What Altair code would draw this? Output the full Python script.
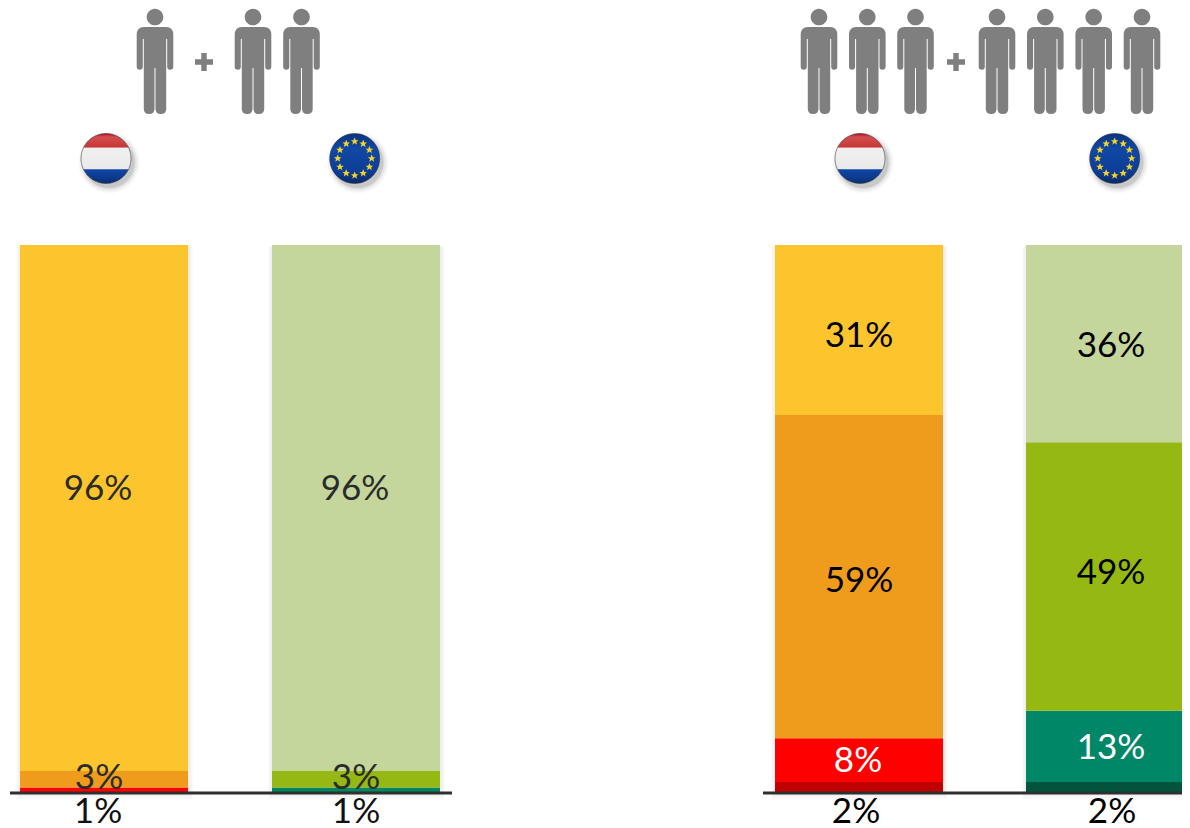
import math
import altair as alt
import pandas as pd

# ---------- data ----------
columns = ["NL, 1+2", "EU, 1+2", "NL, 3+4", "EU, 3+4"]
# stacked from the baseline upward
segment_values = [
    [1, 3, 96],
    [1, 3, 96],
    [2, 8, 59, 31],
    [2, 13, 49, 36],
]
segment_colors = [
    ["#ff0000", "#ef9c1c", "#fdc52d"],
    ["#00875f", "#95b813", "#c5d69d"],
    ["#c00000", "#ff0000", "#ef9c1c", "#fdc52d"],
    ["#00533d", "#008767", "#95b813", "#c5d69d"],
]
label_texts = [
    ["1%", "3%", "96%"],
    ["1%", "3%", "96%"],
    ["2%", "8%", "59%", "31%"],
    ["2%", "13%", "49%", "36%"],
]
label_colors = [
    ["#111111", "#2b2b2b", "#2b2b2b"],
    ["#111111", "#2b2b2b", "#2b2b2b"],
    ["#000000", "#ffffff", "#000000", "#000000"],
    ["#000000", "#ffffff", "#000000", "#000000"],
]

# ---------- layout (page pixels) ----------
W, H = 1174, 820
BASE, TOP = 793.0, 245.0
PCT = (BASE - TOP) / 100


def yv(py):
    return (BASE - py) / PCT


x_scale = alt.Scale(domain=[8, 8 + W], range=[0, W], nice=False, zero=False)
y_scale = alt.Scale(domain=[yv(8 + H), yv(8)], range=[H, 0], nice=False, zero=False)
X = alt.X("x:Q", scale=x_scale, axis=None)
Y = alt.Y("y:Q", scale=y_scale, axis=None)

bar_edges = [(20, 188), (272, 440), (775, 943), (1026, 1194)]
label_x = [
    [98, 99, 98],
    [356, 356, 355],
    [856, 858, 859, 859],
    [1112, 1111, 1111, 1111],
]
label_y = [
    [812, 778, 488.5],
    [812, 778, 488.5],
    [812, 761, 581, 336],
    [812, 748, 573, 346],
]
LABEL_SIZE, FOOT_SIZE = 35, 35
baselines = [(10, 452), (763, 1190)]
person_x = [155, 253, 301.5, 819, 867.3, 915.5, 997, 1045.3, 1093.7, 1142]
plus_x = [204, 956]
nl_flag_x = [106, 860]
eu_flag_x = [354.7, 1114.7]
ICON_Y = 61
FLAG_Y = 158.5

# ---------- shapes ----------
PERSON = (
    "M-11,-34L11,-34Q18.3,-34 18.3,-26L18.3,5.5Q18.3,8.8 15.2,8.8Q12.2,8.8 12.2,5.5L12.2,-22L11.2,-22"
    "L11.2,48Q11.2,53 5.7,53Q0.7,53 0.5,48L0.5,7L-0.5,7L-0.5,48Q-0.7,53 -5.7,53"
    "Q-11.2,53 -11.2,48L-11.2,-22L-12.2,-22L-12.2,5.5Q-12.2,8.8 -15.2,8.8Q-18.3,8.8 -18.3,5.5"
    "L-18.3,-26Q-18.3,-34 -11,-34Z"
    "M-8.3,-44A8.3,8.3 0 1,1 8.3,-44A8.3,8.3 0 1,1 -8.3,-44Z"
)
PLUS = "M-2.7,-9L2.7,-9L2.7,-2.7L9,-2.7L9,2.7L2.7,2.7L2.7,9L-2.7,9L-2.7,2.7L-9,2.7L-9,-2.7L-2.7,-2.7Z"
CIRCLE = "M-1,0A1,1 0 1,1 1,0A1,1 0 1,1 -1,0Z"
CAP_TOP = "M-.903,-.43A1,1 0 0,1 .903,-.43Z"
CAP_BOTTOM = "M-.903,.43A1,1 0 0,0 .903,.43Z"
BAND = "M-.903,-.43L.903,-.43A1,1 0 0,1 .903,.43L-.903,.43A1,1 0 0,1 -.903,-.43Z"
STAR = "M0,-1L.29,-.31L.95,-.31L.42,.12L.59,.81L0,.4L-.59,.81L-.42,.12L-.95,-.31L-.29,-.31Z"


def grad(*stops):
    return {
        "gradient": "linear", "x1": 0, "y1": 0, "x2": 0, "y2": 1,
        "stops": [{"offset": o, "color": c} for o, c in stops],
    }


def points(xs, py, shape, size, fill, opacity=1, dx=0, dy=0):
    df = pd.DataFrame({"x": [x + dx for x in xs], "y": [yv(py + dy)] * len(xs)})
    return alt.Chart(df).mark_point(
        shape=shape, size=size, fill=fill, filled=True, opacity=opacity, strokeWidth=0
    ).encode(x=X, y=Y)


# ---------- tables ----------
rows, labels, shadows = [], [], []
for i, (vals, cols, txts, tcols) in enumerate(
    zip(segment_values, segment_colors, label_texts, label_colors)
):
    x0, x1 = bar_edges[i]
    low = 0
    for j, v in enumerate(vals):
        rows.append({"x": x0, "x2": x1, "y": low, "y2": low + v, "c": cols[j]})
        low += v
        labels.append({
            "x": label_x[i][j], "y": yv(label_y[i][j]), "t": txts[j], "c": tcols[j],
            "s": FOOT_SIZE if j == 0 else LABEL_SIZE,
        })
    for g in (1, 2, 3, 4):
        shadows.append({"x": x0 - g, "x2": x1 + g + 1, "y": yv(BASE + g * 1.8), "y2": 100 - g * 0.1})

bars = alt.Chart(pd.DataFrame(rows)).mark_rect(clip=True, strokeWidth=0).encode(
    x=X, x2="x2:Q", y=Y, y2="y2:Q", color=alt.Color("c:N", scale=None)
)
shadow = alt.Chart(pd.DataFrame(shadows)).mark_rect(
    clip=True, color="#000000", opacity=0.016, strokeWidth=0
).encode(x=X, x2="x2:Q", y=Y, y2="y2:Q")
rules = alt.Chart(
    pd.DataFrame([{"x": a, "x2": b, "y": 0} for a, b in baselines])
).mark_rule(color="#2f2f2f", strokeWidth=3).encode(x=X, x2="x2:Q", y=Y)
texts = alt.Chart(pd.DataFrame(labels)).mark_text(
    font="Lato", baseline="middle", align="center"
).encode(
    x=X, y=Y, text="t:N",
    color=alt.Color("c:N", scale=None),
    size=alt.Size("s:Q", scale=None),
)

layers = [shadow, bars, rules, texts]
layers.append(points(person_x, ICON_Y, PERSON, 4, "#7f7f7f"))
layers.append(points(plus_x, ICON_Y + 1, PLUS, 4, "#7f7f7f"))

# flag badges: soft shadow first
all_flags = nl_flag_x + eu_flag_x
for s, o in ((3844, 0.02), (3481, 0.03), (3136, 0.04), (2809, 0.06), (2601, 0.08)):
    layers.append(points(all_flags, FLAG_Y, CIRCLE, s, "#000000", o, dx=3, dy=4))
layers.append(points(nl_flag_x, FLAG_Y, CIRCLE, 2500, "#eeeeee"))
layers.append(points(nl_flag_x, FLAG_Y, CAP_TOP, 2500,
                     grad((0, "#b00f1a"), (0.25, "#d24e50"), (1, "#c93434"))))
layers.append(points(nl_flag_x, FLAG_Y, BAND, 2500,
                     grad((0, "#f0f0f0"), (1, "#eaeaea"))))
layers.append(points(nl_flag_x, FLAG_Y, CAP_BOTTOM, 2500,
                     grad((0, "#0f46a6"), (0.6, "#0c3a8e"), (1, "#0a2c6a"))))
layers.append(points(eu_flag_x, FLAG_Y, CIRCLE, 2500,
                     grad((0, "#0a3480"), (0.3, "#1048a4"), (0.75, "#0c3e96"), (1, "#0a2a66"))))

# dark rim of every badge
rim = pd.DataFrame({"x": all_flags, "y": [yv(FLAG_Y)] * len(all_flags)})
layers.append(alt.Chart(rim).mark_point(
    shape=CIRCLE, size=2500, filled=False, stroke="#333333", strokeWidth=1, opacity=0.55
).encode(x=X, y=Y))

# twelve stars on the EU badges
star_rows = []
for cx in eu_flag_x:
    for k in range(12):
        a = math.radians(30 * k)
        star_rows.append({"x": cx + 17 * math.sin(a), "y": yv(FLAG_Y - 17 * math.cos(a))})
layers.append(alt.Chart(pd.DataFrame(star_rows)).mark_point(
    shape=STAR, size=64, fill="#f6d32a", filled=True, opacity=1, strokeWidth=0
).encode(x=X, y=Y))

chart = alt.layer(*layers).properties(
    width=W, height=H, padding=0, autosize=alt.AutoSizeParams(type="none")
).configure_view(stroke=None)

chart.save("out.html", embed_options={"renderer": "svg", "actions": False})
